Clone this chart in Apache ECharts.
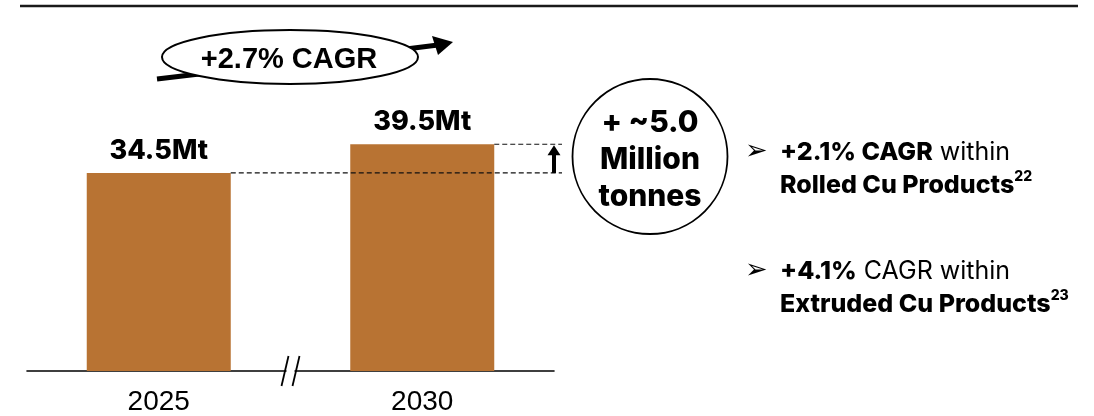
<!DOCTYPE html>
<html>
<head>
<meta charset="utf-8">
<script src="https://cdn.jsdelivr.net/npm/echarts@6/dist/echarts.min.js"></script>
<style>
  html, body { margin: 0; padding: 0; background: #fff; }
  #chart { width: 1094px; height: 416px; }
</style>
</head>
<body>
<div id="chart"></div>
<script>
// Copper demand, 2025 vs 2030 (million tonnes)
const categories = ['2025', '2030'];
const volumes = [34.5, 39.5];
const valueLabels = ['34.5Mt', '39.5Mt'];
const growthLabel = '+2.7% CAGR';
const deltaLines = ['+ ~5.0', 'Million', 'tonnes'];
const bulletPoints = [
  { lead: '+2.1% CAGR', rest: ' within', product: 'Rolled Cu Products', note: '22' },
  { lead: '+4.1%', rest: ' CAGR within', product: 'Extruded Cu Products', note: '23' }
];

const COPPER = '#B87333';
const INK = '#000000';
const BAR_WIDTH = 144;

const chart = echarts.init(document.getElementById('chart'), null, { renderer: 'canvas' });

chart.setOption({
  animation: false,
  backgroundColor: '#ffffff',
  grid: { left: 27, right: 540, top: 84, bottom: 45 },
  xAxis: {
    type: 'category',
    data: categories,
    axisLine: { show: true, lineStyle: { color: INK, width: 1.6 } },
    axisTick: { show: false },
    axisLabel: {
      color: INK,
      fontFamily: 'Liberation Sans, Arial, sans-serif',
      fontSize: 28,
      margin: 17
    }
  },
  yAxis: {
    type: 'value',
    min: 0,
    max: 50,
    show: false,
    splitLine: { show: false }
  },
  series: [{
    type: 'bar',
    data: volumes,
    barWidth: BAR_WIDTH,
    itemStyle: { color: COPPER },
    label: {
      show: true,
      position: 'top',
      distance: 9,
      color: INK,
      fontFamily: 'Inter, sans-serif',
      fontWeight: 800,
      fontSize: 27,
      formatter: (p) => valueLabels[p.dataIndex]
    }
  }]
});

// Annotations placed from the axis scales
const yLow = chart.convertToPixel({ yAxisIndex: 0 }, volumes[0]);
const yHigh = chart.convertToPixel({ yAxisIndex: 0 }, volumes[1]);
const yBase = chart.convertToPixel({ yAxisIndex: 0 }, 0);
const xFirst = chart.convertToPixel({ xAxisIndex: 0 }, categories[0]);
const xSecond = chart.convertToPixel({ xAxisIndex: 0 }, categories[1]);
const guideEnd = 562;
const arrowX = 554;
const breakX = (xFirst + xSecond) / 2;

const dashed = { stroke: '#111', lineWidth: 1.2, lineDash: [5, 3] };

const graphics = [
  // top rule
  { type: 'line', shape: { x1: 20, y1: 6, x2: 1078, y2: 6 }, style: { stroke: '#1a1a1a', lineWidth: 2.5 } },

  // guide lines at the two bar heights
  { type: 'line', z: 10, shape: { x1: xFirst + BAR_WIDTH / 2, y1: yLow, x2: guideEnd, y2: yLow }, style: dashed },
  { type: 'line', z: 10, shape: { x1: xSecond + BAR_WIDTH / 2, y1: yHigh, x2: guideEnd, y2: yHigh }, style: dashed },

  // increase arrow between guides
  { type: 'rect', z: 10, shape: { x: arrowX - 2, y: yHigh + 9, width: 4, height: yLow - yHigh - 9 }, style: { fill: INK } },
  { type: 'polygon', z: 10, shape: { points: [[arrowX, yHigh + 1], [arrowX - 6.5, yHigh + 11], [arrowX + 6.5, yHigh + 11]] }, style: { fill: INK } },

  // delta circle
  { type: 'circle', z: 10, shape: { cx: 650, cy: 156.5, r: 77.5 }, style: { fill: '#fff', stroke: INK, lineWidth: 1.8 } },
  ...deltaLines.map((t, i) => ({
    type: 'text', z: 11,
    style: {
      text: t, x: 650, y: 123 + i * 37,
      align: 'center', verticalAlign: 'middle',
      fill: INK, font: '800 30px Inter, sans-serif'
    }
  })),

  // growth arrow behind the CAGR ellipse
  { type: 'polyline', z: 10, shape: { points: [[157, 79], [250, 68], [350, 56], [438, 45]] }, style: { stroke: INK, lineWidth: 5, fill: null } },
  { type: 'polygon', z: 10, shape: { points: [[453, 42], [432, 36], [438, 55]] }, style: { fill: INK } },
  { type: 'ellipse', z: 11, shape: { cx: 290, cy: 57, rx: 128, ry: 27 }, style: { fill: '#fff', stroke: INK, lineWidth: 2 } },
  {
    type: 'text', z: 12,
    style: {
      text: growthLabel, x: 289, y: 60,
      align: 'center', verticalAlign: 'middle',
      fill: INK, font: '700 29px "Liberation Sans", Arial, sans-serif'
    }
  },

  // axis break marks
  { type: 'rect', z: 10, shape: { x: breakX - 4, y: yBase - 3, width: 8, height: 6 }, style: { fill: '#fff' } },
  { type: 'line', z: 11, shape: { x1: breakX - 9, y1: yBase + 15, x2: breakX - 2, y2: yBase - 15 }, style: { stroke: INK, lineWidth: 1.8 } },
  { type: 'line', z: 11, shape: { x1: breakX + 2, y1: yBase + 15, x2: breakX + 9, y2: yBase - 15 }, style: { stroke: INK, lineWidth: 1.8 } }
];

// bullet notes on the right
const bulletTop = [152, 271];
bulletPoints.forEach((b, i) => {
  const y0 = bulletTop[i];
  graphics.push({
    type: 'text', z: 10,
    style: {
      text: '➢', x: 745, y: y0, align: 'left', verticalAlign: 'middle',
      fill: INK, font: '27px "DejaVu Sans", sans-serif'
    }
  });
  graphics.push({
    type: 'text', z: 10,
    style: {
      text: '{b|' + b.lead + '}{r|' + b.rest + '}', x: 780, y: y0,
      align: 'left', verticalAlign: 'middle',
      rich: {
        b: { fontFamily: 'Inter, sans-serif', fontWeight: 800, fontSize: 25, fill: INK, lineHeight: 30 },
        r: { fontFamily: 'Inter, sans-serif', fontWeight: 400, fontSize: 25, fill: INK, lineHeight: 30 }
      }
    }
  });
  graphics.push({
    type: 'text', z: 10,
    style: {
      text: '{b|' + b.product + '}{s|' + b.note + '}', x: 780, y: y0 + 33,
      align: 'left', verticalAlign: 'middle',
      rich: {
        b: { fontFamily: 'Inter, sans-serif', fontWeight: 800, fontSize: 25, fill: INK, lineHeight: 30 },
        s: { fontFamily: 'Inter, sans-serif', fontWeight: 800, fontSize: 14, fill: INK, lineHeight: 18, verticalAlign: 'top' }
      }
    }
  });
});

chart.setOption({ graphic: graphics });
</script>
</body>
</html>
